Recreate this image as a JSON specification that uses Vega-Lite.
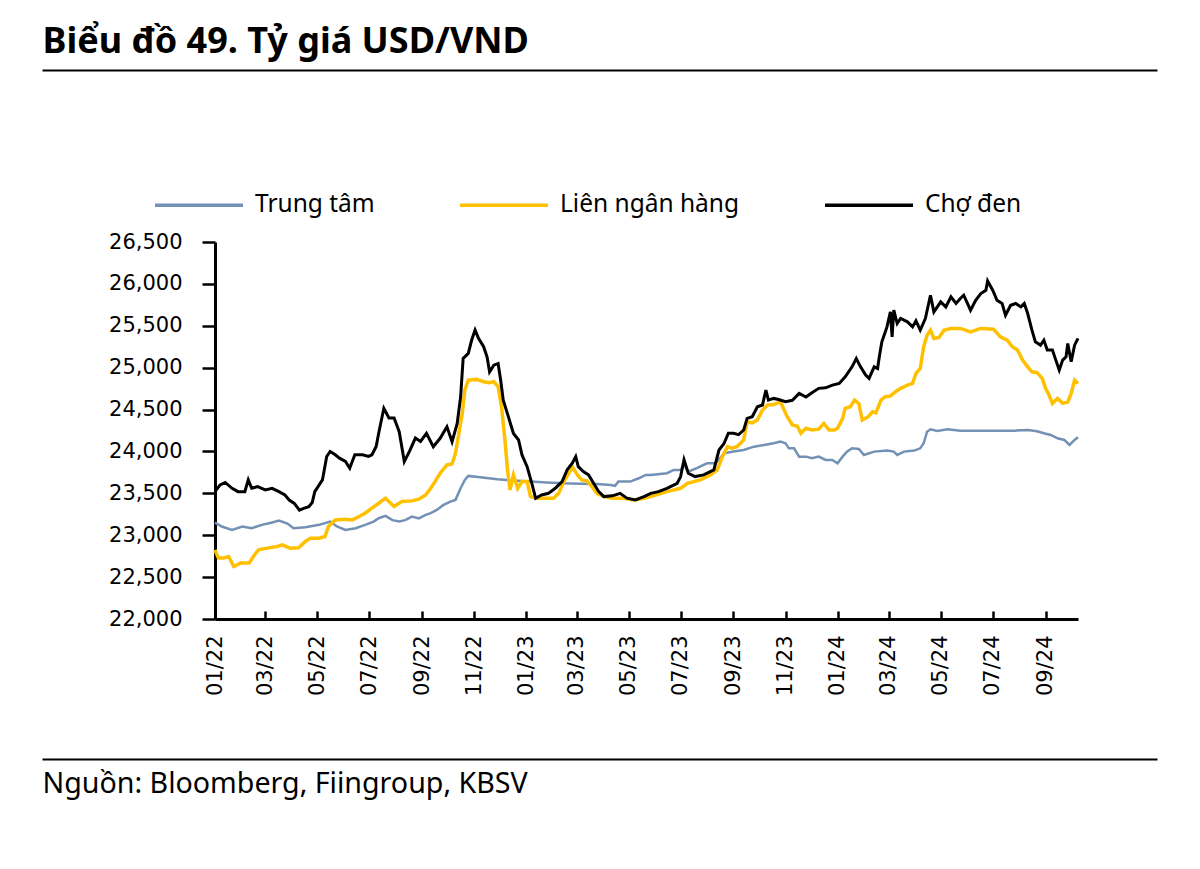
{
  "$schema": "https://vega.github.io/schema/vega-lite/v6.json",
  "autosize": {"type": "none"},
  "width": 863,
  "height": 377,
  "padding": {"left": 215, "top": 242, "right": 122, "bottom": 250},
  "background": "white",
  "config": {"view": {"stroke": null}, "font": "Noto Sans"},
  "datasets": {
    "tt": [
      {"d":"2022-01-01","v":23151,"s":"Trung tâm"},{"d":"2022-01-09","v":23104,"s":"Trung tâm"},{"d":"2022-01-21","v":23064,"s":"Trung tâm"},{"d":"2022-02-02","v":23104,"s":"Trung tâm"},{"d":"2022-02-13","v":23084,"s":"Trung tâm"},{"d":"2022-02-25","v":23124,"s":"Trung tâm"},{"d":"2022-03-09","v":23151,"s":"Trung tâm"},{"d":"2022-03-17","v":23175,"s":"Trung tâm"},{"d":"2022-03-27","v":23140,"s":"Trung tâm"},{"d":"2022-04-03","v":23084,"s":"Trung tâm"},{"d":"2022-04-17","v":23094,"s":"Trung tâm"},{"d":"2022-05-03","v":23124,"s":"Trung tâm"},{"d":"2022-05-16","v":23163,"s":"Trung tâm"},{"d":"2022-05-24","v":23104,"s":"Trung tâm"},{"d":"2022-06-03","v":23064,"s":"Trung tâm"},{"d":"2022-06-15","v":23084,"s":"Trung tâm"},{"d":"2022-06-26","v":23124,"s":"Trung tâm"},{"d":"2022-07-06","v":23163,"s":"Trung tâm"},{"d":"2022-07-12","v":23203,"s":"Trung tâm"},{"d":"2022-07-20","v":23231,"s":"Trung tâm"},{"d":"2022-07-28","v":23180,"s":"Trung tâm"},{"d":"2022-08-05","v":23163,"s":"Trung tâm"},{"d":"2022-08-12","v":23180,"s":"Trung tâm"},{"d":"2022-08-20","v":23223,"s":"Trung tâm"},{"d":"2022-08-28","v":23200,"s":"Trung tâm"},{"d":"2022-09-05","v":23243,"s":"Trung tâm"},{"d":"2022-09-11","v":23263,"s":"Trung tâm"},{"d":"2022-09-18","v":23302,"s":"Trung tâm"},{"d":"2022-09-26","v":23362,"s":"Trung tâm"},{"d":"2022-10-04","v":23402,"s":"Trung tâm"},{"d":"2022-10-10","v":23422,"s":"Trung tâm"},{"d":"2022-10-16","v":23560,"s":"Trung tâm"},{"d":"2022-10-21","v":23660,"s":"Trung tâm"},{"d":"2022-10-25","v":23708,"s":"Trung tâm"},{"d":"2022-11-08","v":23692,"s":"Trung tâm"},{"d":"2022-11-28","v":23668,"s":"Trung tâm"},{"d":"2022-12-17","v":23652,"s":"Trung tâm"},{"d":"2023-01-06","v":23640,"s":"Trung tâm"},{"d":"2023-01-25","v":23630,"s":"Trung tâm"},{"d":"2023-02-14","v":23620,"s":"Trung tâm"},{"d":"2023-03-05","v":23615,"s":"Trung tâm"},{"d":"2023-03-25","v":23610,"s":"Trung tâm"},{"d":"2023-04-10","v":23600,"s":"Trung tâm"},{"d":"2023-04-15","v":23590,"s":"Trung tâm"},{"d":"2023-04-19","v":23640,"s":"Trung tâm"},{"d":"2023-05-03","v":23640,"s":"Trung tâm"},{"d":"2023-05-13","v":23680,"s":"Trung tâm"},{"d":"2023-05-21","v":23720,"s":"Trung tâm"},{"d":"2023-05-27","v":23720,"s":"Trung tâm"},{"d":"2023-06-15","v":23740,"s":"Trung tâm"},{"d":"2023-06-23","v":23780,"s":"Trung tâm"},{"d":"2023-07-01","v":23780,"s":"Trung tâm"},{"d":"2023-07-05","v":23839,"s":"Trung tâm"},{"d":"2023-07-10","v":23759,"s":"Trung tâm"},{"d":"2023-07-20","v":23800,"s":"Trung tâm"},{"d":"2023-08-01","v":23859,"s":"Trung tâm"},{"d":"2023-08-11","v":23859,"s":"Trung tâm"},{"d":"2023-08-21","v":23978,"s":"Trung tâm"},{"d":"2023-09-01","v":24000,"s":"Trung tâm"},{"d":"2023-09-13","v":24017,"s":"Trung tâm"},{"d":"2023-09-25","v":24057,"s":"Trung tâm"},{"d":"2023-10-07","v":24077,"s":"Trung tâm"},{"d":"2023-10-18","v":24097,"s":"Trung tâm"},{"d":"2023-10-26","v":24117,"s":"Trung tâm"},{"d":"2023-11-01","v":24097,"s":"Trung tâm"},{"d":"2023-11-05","v":24037,"s":"Trung tâm"},{"d":"2023-11-11","v":24037,"s":"Trung tâm"},{"d":"2023-11-17","v":23938,"s":"Trung tâm"},{"d":"2023-11-25","v":23938,"s":"Trung tâm"},{"d":"2023-12-02","v":23918,"s":"Trung tâm"},{"d":"2023-12-10","v":23938,"s":"Trung tâm"},{"d":"2023-12-18","v":23898,"s":"Trung tâm"},{"d":"2023-12-26","v":23898,"s":"Trung tâm"},{"d":"2024-01-01","v":23859,"s":"Trung tâm"},{"d":"2024-01-07","v":23938,"s":"Trung tâm"},{"d":"2024-01-12","v":23998,"s":"Trung tâm"},{"d":"2024-01-18","v":24037,"s":"Trung tâm"},{"d":"2024-01-26","v":24030,"s":"Trung tâm"},{"d":"2024-02-01","v":23958,"s":"Trung tâm"},{"d":"2024-02-13","v":23998,"s":"Trung tâm"},{"d":"2024-02-28","v":24010,"s":"Trung tâm"},{"d":"2024-03-07","v":23998,"s":"Trung tâm"},{"d":"2024-03-11","v":23958,"s":"Trung tâm"},{"d":"2024-03-19","v":23998,"s":"Trung tâm"},{"d":"2024-03-31","v":24010,"s":"Trung tâm"},{"d":"2024-04-07","v":24037,"s":"Trung tâm"},{"d":"2024-04-11","v":24097,"s":"Trung tâm"},{"d":"2024-04-15","v":24235,"s":"Trung tâm"},{"d":"2024-04-19","v":24264,"s":"Trung tâm"},{"d":"2024-04-27","v":24245,"s":"Trung tâm"},{"d":"2024-05-09","v":24264,"s":"Trung tâm"},{"d":"2024-05-24","v":24248,"s":"Trung tâm"},{"d":"2024-06-09","v":24248,"s":"Trung tâm"},{"d":"2024-06-25","v":24248,"s":"Trung tâm"},{"d":"2024-07-10","v":24248,"s":"Trung tâm"},{"d":"2024-07-26","v":24248,"s":"Trung tâm"},{"d":"2024-08-11","v":24255,"s":"Trung tâm"},{"d":"2024-08-22","v":24240,"s":"Trung tâm"},{"d":"2024-08-30","v":24217,"s":"Trung tâm"},{"d":"2024-09-07","v":24197,"s":"Trung tâm"},{"d":"2024-09-15","v":24157,"s":"Trung tâm"},{"d":"2024-09-23","v":24137,"s":"Trung tâm"},{"d":"2024-09-29","v":24077,"s":"Trung tâm"},{"d":"2024-10-05","v":24137,"s":"Trung tâm"},{"d":"2024-10-09","v":24170,"s":"Trung tâm"}
    ],
    "lnh": [
      {"d":"2022-01-01","v":22826,"s":"Liên ngân hàng"},{"d":"2022-01-05","v":22727,"s":"Liên ngân hàng"},{"d":"2022-01-11","v":22727,"s":"Liên ngân hàng"},{"d":"2022-01-17","v":22746,"s":"Liên ngân hàng"},{"d":"2022-01-23","v":22627,"s":"Liên ngân hàng"},{"d":"2022-01-31","v":22667,"s":"Liên ngân hàng"},{"d":"2022-02-10","v":22667,"s":"Liên ngân hàng"},{"d":"2022-02-15","v":22746,"s":"Liên ngân hàng"},{"d":"2022-02-21","v":22826,"s":"Liên ngân hàng"},{"d":"2022-03-03","v":22846,"s":"Liên ngân hàng"},{"d":"2022-03-15","v":22866,"s":"Liên ngân hàng"},{"d":"2022-03-21","v":22885,"s":"Liên ngân hàng"},{"d":"2022-03-30","v":22846,"s":"Liên ngân hàng"},{"d":"2022-04-09","v":22850,"s":"Liên ngân hàng"},{"d":"2022-04-17","v":22925,"s":"Liên ngân hàng"},{"d":"2022-04-23","v":22965,"s":"Liên ngân hàng"},{"d":"2022-05-03","v":22965,"s":"Liên ngân hàng"},{"d":"2022-05-10","v":22985,"s":"Liên ngân hàng"},{"d":"2022-05-14","v":23104,"s":"Liên ngân hàng"},{"d":"2022-05-22","v":23183,"s":"Liên ngân hàng"},{"d":"2022-06-03","v":23190,"s":"Liên ngân hàng"},{"d":"2022-06-11","v":23183,"s":"Liên ngân hàng"},{"d":"2022-06-19","v":23223,"s":"Liên ngân hàng"},{"d":"2022-06-26","v":23263,"s":"Liên ngân hàng"},{"d":"2022-07-04","v":23323,"s":"Liên ngân hàng"},{"d":"2022-07-12","v":23382,"s":"Liên ngân hàng"},{"d":"2022-07-20","v":23442,"s":"Liên ngân hàng"},{"d":"2022-07-30","v":23342,"s":"Liên ngân hàng"},{"d":"2022-08-08","v":23402,"s":"Liên ngân hàng"},{"d":"2022-08-20","v":23410,"s":"Liên ngân hàng"},{"d":"2022-08-28","v":23430,"s":"Liên ngân hàng"},{"d":"2022-09-05","v":23481,"s":"Liên ngân hàng"},{"d":"2022-09-11","v":23560,"s":"Liên ngân hàng"},{"d":"2022-09-16","v":23640,"s":"Liên ngân hàng"},{"d":"2022-09-22","v":23740,"s":"Liên ngân hàng"},{"d":"2022-09-30","v":23839,"s":"Liên ngân hàng"},{"d":"2022-10-06","v":23850,"s":"Liên ngân hàng"},{"d":"2022-10-10","v":23978,"s":"Liên ngân hàng"},{"d":"2022-10-14","v":24217,"s":"Liên ngân hàng"},{"d":"2022-10-18","v":24455,"s":"Liên ngân hàng"},{"d":"2022-10-21","v":24733,"s":"Liên ngân hàng"},{"d":"2022-10-25","v":24852,"s":"Liên ngân hàng"},{"d":"2022-11-04","v":24860,"s":"Liên ngân hàng"},{"d":"2022-11-12","v":24832,"s":"Liên ngân hàng"},{"d":"2022-11-18","v":24820,"s":"Liên ngân hàng"},{"d":"2022-11-24","v":24832,"s":"Liên ngân hàng"},{"d":"2022-11-29","v":24772,"s":"Liên ngân hàng"},{"d":"2022-12-03","v":24534,"s":"Liên ngân hàng"},{"d":"2022-12-07","v":24137,"s":"Liên ngân hàng"},{"d":"2022-12-10","v":23780,"s":"Liên ngân hàng"},{"d":"2022-12-13","v":23540,"s":"Liên ngân hàng"},{"d":"2022-12-17","v":23720,"s":"Liên ngân hàng"},{"d":"2022-12-22","v":23560,"s":"Liên ngân hàng"},{"d":"2022-12-27","v":23640,"s":"Liên ngân hàng"},{"d":"2023-01-02","v":23640,"s":"Liên ngân hàng"},{"d":"2023-01-06","v":23461,"s":"Liên ngân hàng"},{"d":"2023-01-14","v":23442,"s":"Liên ngân hàng"},{"d":"2023-01-25","v":23442,"s":"Liên ngân hàng"},{"d":"2023-02-02","v":23442,"s":"Liên ngân hàng"},{"d":"2023-02-08","v":23500,"s":"Liên ngân hàng"},{"d":"2023-02-14","v":23640,"s":"Liên ngân hàng"},{"d":"2023-02-20","v":23740,"s":"Liên ngân hàng"},{"d":"2023-02-24","v":23818,"s":"Liên ngân hàng"},{"d":"2023-03-02","v":23720,"s":"Liên ngân hàng"},{"d":"2023-03-07","v":23660,"s":"Liên ngân hàng"},{"d":"2023-03-13","v":23650,"s":"Liên ngân hàng"},{"d":"2023-03-19","v":23580,"s":"Liên ngân hàng"},{"d":"2023-03-25","v":23500,"s":"Liên ngân hàng"},{"d":"2023-04-02","v":23461,"s":"Liên ngân hàng"},{"d":"2023-04-12","v":23442,"s":"Liên ngân hàng"},{"d":"2023-04-25","v":23442,"s":"Liên ngân hàng"},{"d":"2023-05-07","v":23422,"s":"Liên ngân hàng"},{"d":"2023-05-19","v":23442,"s":"Liên ngân hàng"},{"d":"2023-05-27","v":23461,"s":"Liên ngân hàng"},{"d":"2023-06-15","v":23520,"s":"Liên ngân hàng"},{"d":"2023-07-01","v":23560,"s":"Liên ngân hàng"},{"d":"2023-07-09","v":23620,"s":"Liên ngân hàng"},{"d":"2023-07-24","v":23660,"s":"Liên ngân hàng"},{"d":"2023-08-05","v":23720,"s":"Liên ngân hàng"},{"d":"2023-08-13","v":23780,"s":"Liên ngân hàng"},{"d":"2023-08-19","v":23938,"s":"Liên ngân hàng"},{"d":"2023-08-25","v":24057,"s":"Liên ngân hàng"},{"d":"2023-08-30","v":24040,"s":"Liên ngân hàng"},{"d":"2023-09-05","v":24057,"s":"Liên ngân hàng"},{"d":"2023-09-13","v":24137,"s":"Liên ngân hàng"},{"d":"2023-09-17","v":24355,"s":"Liên ngân hàng"},{"d":"2023-09-23","v":24340,"s":"Liên ngân hàng"},{"d":"2023-09-29","v":24375,"s":"Liên ngân hàng"},{"d":"2023-10-05","v":24494,"s":"Liên ngân hàng"},{"d":"2023-10-11","v":24554,"s":"Liên ngân hàng"},{"d":"2023-10-18","v":24560,"s":"Liên ngân hàng"},{"d":"2023-10-26","v":24593,"s":"Liên ngân hàng"},{"d":"2023-11-03","v":24415,"s":"Liên ngân hàng"},{"d":"2023-11-09","v":24316,"s":"Liên ngân hàng"},{"d":"2023-11-15","v":24300,"s":"Liên ngân hàng"},{"d":"2023-11-19","v":24217,"s":"Liên ngân hàng"},{"d":"2023-11-25","v":24276,"s":"Liên ngân hàng"},{"d":"2023-12-02","v":24256,"s":"Liên ngân hàng"},{"d":"2023-12-10","v":24266,"s":"Liên ngân hàng"},{"d":"2023-12-16","v":24335,"s":"Liên ngân hàng"},{"d":"2023-12-22","v":24256,"s":"Liên ngân hàng"},{"d":"2023-12-28","v":24256,"s":"Liên ngân hàng"},{"d":"2024-01-01","v":24276,"s":"Liên ngân hàng"},{"d":"2024-01-07","v":24395,"s":"Liên ngân hàng"},{"d":"2024-01-10","v":24514,"s":"Liên ngân hàng"},{"d":"2024-01-16","v":24534,"s":"Liên ngân hàng"},{"d":"2024-01-21","v":24613,"s":"Liên ngân hàng"},{"d":"2024-01-26","v":24570,"s":"Liên ngân hàng"},{"d":"2024-01-30","v":24375,"s":"Liên ngân hàng"},{"d":"2024-02-06","v":24415,"s":"Liên ngân hàng"},{"d":"2024-02-11","v":24474,"s":"Liên ngân hàng"},{"d":"2024-02-15","v":24460,"s":"Liên ngân hàng"},{"d":"2024-02-21","v":24613,"s":"Liên ngân hàng"},{"d":"2024-02-26","v":24653,"s":"Liên ngân hàng"},{"d":"2024-03-03","v":24660,"s":"Liên ngân hàng"},{"d":"2024-03-09","v":24713,"s":"Liên ngân hàng"},{"d":"2024-03-15","v":24753,"s":"Liên ngân hàng"},{"d":"2024-03-23","v":24792,"s":"Liên ngân hàng"},{"d":"2024-03-29","v":24812,"s":"Liên ngân hàng"},{"d":"2024-04-02","v":24931,"s":"Liên ngân hàng"},{"d":"2024-04-07","v":24991,"s":"Liên ngân hàng"},{"d":"2024-04-11","v":25249,"s":"Liên ngân hàng"},{"d":"2024-04-15","v":25388,"s":"Liên ngân hàng"},{"d":"2024-04-19","v":25448,"s":"Liên ngân hàng"},{"d":"2024-04-23","v":25349,"s":"Liên ngân hàng"},{"d":"2024-04-29","v":25360,"s":"Liên ngân hàng"},{"d":"2024-05-05","v":25448,"s":"Liên ngân hàng"},{"d":"2024-05-13","v":25468,"s":"Liên ngân hàng"},{"d":"2024-05-24","v":25468,"s":"Liên ngân hàng"},{"d":"2024-06-05","v":25428,"s":"Liên ngân hàng"},{"d":"2024-06-17","v":25468,"s":"Liên ngân hàng"},{"d":"2024-07-02","v":25460,"s":"Liên ngân hàng"},{"d":"2024-07-10","v":25368,"s":"Liên ngân hàng"},{"d":"2024-07-18","v":25328,"s":"Liên ngân hàng"},{"d":"2024-07-24","v":25249,"s":"Liên ngân hàng"},{"d":"2024-07-30","v":25210,"s":"Liên ngân hàng"},{"d":"2024-08-05","v":25090,"s":"Liên ngân hàng"},{"d":"2024-08-11","v":25010,"s":"Liên ngân hàng"},{"d":"2024-08-16","v":24951,"s":"Liên ngân hàng"},{"d":"2024-08-22","v":24940,"s":"Liên ngân hàng"},{"d":"2024-08-28","v":24872,"s":"Liên ngân hàng"},{"d":"2024-09-01","v":24753,"s":"Liên ngân hàng"},{"d":"2024-09-05","v":24673,"s":"Liên ngân hàng"},{"d":"2024-09-09","v":24574,"s":"Liên ngân hàng"},{"d":"2024-09-15","v":24633,"s":"Liên ngân hàng"},{"d":"2024-09-21","v":24574,"s":"Liên ngân hàng"},{"d":"2024-09-27","v":24590,"s":"Liên ngân hàng"},{"d":"2024-10-01","v":24693,"s":"Liên ngân hàng"},{"d":"2024-10-05","v":24852,"s":"Liên ngân hàng"},{"d":"2024-10-09","v":24812,"s":"Liên ngân hàng"}
    ],
    "cd": [
      {"d":"2022-01-01","v":23520,"s":"Chợ đen"},{"d":"2022-01-07","v":23600,"s":"Chợ đen"},{"d":"2022-01-13","v":23630,"s":"Chợ đen"},{"d":"2022-01-21","v":23560,"s":"Chợ đen"},{"d":"2022-01-28","v":23520,"s":"Chợ đen"},{"d":"2022-02-05","v":23520,"s":"Chợ đen"},{"d":"2022-02-09","v":23660,"s":"Chợ đen"},{"d":"2022-02-13","v":23560,"s":"Chợ đen"},{"d":"2022-02-20","v":23580,"s":"Chợ đen"},{"d":"2022-03-01","v":23540,"s":"Chợ đen"},{"d":"2022-03-09","v":23560,"s":"Chợ đen"},{"d":"2022-03-17","v":23520,"s":"Chợ đen"},{"d":"2022-03-24","v":23480,"s":"Chợ đen"},{"d":"2022-03-29","v":23420,"s":"Chợ đen"},{"d":"2022-04-04","v":23380,"s":"Chợ đen"},{"d":"2022-04-10","v":23300,"s":"Chợ đen"},{"d":"2022-04-15","v":23320,"s":"Chợ đen"},{"d":"2022-04-21","v":23340,"s":"Chợ đen"},{"d":"2022-04-25","v":23390,"s":"Chợ đen"},{"d":"2022-04-28","v":23520,"s":"Chợ đen"},{"d":"2022-05-07","v":23660,"s":"Chợ đen"},{"d":"2022-05-12","v":23940,"s":"Chợ đen"},{"d":"2022-05-16","v":24000,"s":"Chợ đen"},{"d":"2022-05-22","v":23960,"s":"Chợ đen"},{"d":"2022-05-27","v":23920,"s":"Chợ đen"},{"d":"2022-06-03","v":23880,"s":"Chợ đen"},{"d":"2022-06-08","v":23800,"s":"Chợ đen"},{"d":"2022-06-14","v":23960,"s":"Chợ đen"},{"d":"2022-06-23","v":23960,"s":"Chợ đen"},{"d":"2022-06-30","v":23940,"s":"Chợ đen"},{"d":"2022-07-04","v":23960,"s":"Chợ đen"},{"d":"2022-07-09","v":24060,"s":"Chợ đen"},{"d":"2022-07-12","v":24220,"s":"Chợ đen"},{"d":"2022-07-18","v":24515,"s":"Chợ đen"},{"d":"2022-07-24","v":24400,"s":"Chợ đen"},{"d":"2022-07-30","v":24400,"s":"Chợ đen"},{"d":"2022-08-05","v":24235,"s":"Chợ đen"},{"d":"2022-08-11","v":23880,"s":"Chợ đen"},{"d":"2022-08-17","v":24000,"s":"Chợ đen"},{"d":"2022-08-24","v":24160,"s":"Chợ đen"},{"d":"2022-08-30","v":24120,"s":"Chợ đen"},{"d":"2022-09-06","v":24217,"s":"Chợ đen"},{"d":"2022-09-14","v":24057,"s":"Chợ đen"},{"d":"2022-09-22","v":24157,"s":"Chợ đen"},{"d":"2022-09-30","v":24295,"s":"Chợ đen"},{"d":"2022-10-06","v":24117,"s":"Chợ đen"},{"d":"2022-10-12","v":24335,"s":"Chợ đen"},{"d":"2022-10-16","v":24650,"s":"Chợ đen"},{"d":"2022-10-19","v":25110,"s":"Chợ đen"},{"d":"2022-10-25","v":25170,"s":"Chợ đen"},{"d":"2022-10-29","v":25330,"s":"Chợ đen"},{"d":"2022-11-02","v":25450,"s":"Chợ đen"},{"d":"2022-11-06","v":25350,"s":"Chợ đen"},{"d":"2022-11-12","v":25250,"s":"Chợ đen"},{"d":"2022-11-16","v":25130,"s":"Chợ đen"},{"d":"2022-11-19","v":24950,"s":"Chợ đen"},{"d":"2022-11-24","v":25030,"s":"Chợ đen"},{"d":"2022-11-29","v":25050,"s":"Chợ đen"},{"d":"2022-12-02","v":24850,"s":"Chợ đen"},{"d":"2022-12-05","v":24613,"s":"Chợ đen"},{"d":"2022-12-11","v":24415,"s":"Chợ đen"},{"d":"2022-12-17","v":24215,"s":"Chợ đen"},{"d":"2022-12-23","v":24137,"s":"Chợ đen"},{"d":"2022-12-27","v":23958,"s":"Chợ đen"},{"d":"2023-01-02","v":23818,"s":"Chợ đen"},{"d":"2023-01-08","v":23600,"s":"Chợ đen"},{"d":"2023-01-12","v":23442,"s":"Chợ đen"},{"d":"2023-01-19","v":23481,"s":"Chợ đen"},{"d":"2023-01-27","v":23500,"s":"Chợ đen"},{"d":"2023-02-04","v":23560,"s":"Chợ đen"},{"d":"2023-02-12","v":23640,"s":"Chợ đen"},{"d":"2023-02-18","v":23780,"s":"Chợ đen"},{"d":"2023-02-24","v":23859,"s":"Chợ đen"},{"d":"2023-02-28","v":23938,"s":"Chợ đen"},{"d":"2023-03-03","v":23818,"s":"Chợ đen"},{"d":"2023-03-09","v":23759,"s":"Chợ đen"},{"d":"2023-03-15","v":23720,"s":"Chợ đen"},{"d":"2023-03-21","v":23620,"s":"Chợ đen"},{"d":"2023-03-27","v":23520,"s":"Chợ đen"},{"d":"2023-04-02","v":23461,"s":"Chợ đen"},{"d":"2023-04-12","v":23470,"s":"Chợ đen"},{"d":"2023-04-21","v":23500,"s":"Chợ đen"},{"d":"2023-04-29","v":23442,"s":"Chợ đen"},{"d":"2023-05-09","v":23422,"s":"Chợ đen"},{"d":"2023-05-19","v":23461,"s":"Chợ đen"},{"d":"2023-05-27","v":23500,"s":"Chợ đen"},{"d":"2023-06-05","v":23520,"s":"Chợ đen"},{"d":"2023-06-15","v":23560,"s":"Chợ đen"},{"d":"2023-06-27","v":23620,"s":"Chợ đen"},{"d":"2023-07-01","v":23700,"s":"Chợ đen"},{"d":"2023-07-05","v":23900,"s":"Chợ đen"},{"d":"2023-07-10","v":23740,"s":"Chợ đen"},{"d":"2023-07-18","v":23700,"s":"Chợ đen"},{"d":"2023-07-28","v":23720,"s":"Chợ đen"},{"d":"2023-08-09","v":23780,"s":"Chợ đen"},{"d":"2023-08-15","v":24017,"s":"Chợ đen"},{"d":"2023-08-21","v":24097,"s":"Chợ đen"},{"d":"2023-08-26","v":24217,"s":"Chợ đen"},{"d":"2023-09-01","v":24217,"s":"Chợ đen"},{"d":"2023-09-07","v":24200,"s":"Chợ đen"},{"d":"2023-09-13","v":24256,"s":"Chợ đen"},{"d":"2023-09-17","v":24395,"s":"Chợ đen"},{"d":"2023-09-23","v":24415,"s":"Chợ đen"},{"d":"2023-09-29","v":24534,"s":"Chợ đen"},{"d":"2023-10-05","v":24554,"s":"Chợ đen"},{"d":"2023-10-09","v":24733,"s":"Chợ đen"},{"d":"2023-10-12","v":24613,"s":"Chợ đen"},{"d":"2023-10-18","v":24633,"s":"Chợ đen"},{"d":"2023-10-24","v":24620,"s":"Chợ đen"},{"d":"2023-11-01","v":24593,"s":"Chợ đen"},{"d":"2023-11-09","v":24610,"s":"Chợ đen"},{"d":"2023-11-17","v":24693,"s":"Chợ đen"},{"d":"2023-11-25","v":24650,"s":"Chợ đen"},{"d":"2023-12-02","v":24700,"s":"Chợ đen"},{"d":"2023-12-10","v":24753,"s":"Chợ đen"},{"d":"2023-12-18","v":24760,"s":"Chợ đen"},{"d":"2023-12-26","v":24792,"s":"Chợ đen"},{"d":"2024-01-03","v":24812,"s":"Chợ đen"},{"d":"2024-01-10","v":24891,"s":"Chợ đen"},{"d":"2024-01-18","v":25010,"s":"Chợ đen"},{"d":"2024-01-23","v":25110,"s":"Chợ đen"},{"d":"2024-01-28","v":25010,"s":"Chợ đen"},{"d":"2024-02-03","v":24911,"s":"Chợ đen"},{"d":"2024-02-07","v":24872,"s":"Chợ đen"},{"d":"2024-02-13","v":25010,"s":"Chợ đen"},{"d":"2024-02-17","v":24990,"s":"Chợ đen"},{"d":"2024-02-19","v":25130,"s":"Chợ đen"},{"d":"2024-02-22","v":25308,"s":"Chợ đen"},{"d":"2024-02-28","v":25487,"s":"Chợ đen"},{"d":"2024-03-03","v":25666,"s":"Chợ đen"},{"d":"2024-03-05","v":25368,"s":"Chợ đen"},{"d":"2024-03-07","v":25686,"s":"Chợ đen"},{"d":"2024-03-11","v":25527,"s":"Chợ đen"},{"d":"2024-03-15","v":25587,"s":"Chợ đen"},{"d":"2024-03-23","v":25547,"s":"Chợ đen"},{"d":"2024-03-29","v":25487,"s":"Chợ đen"},{"d":"2024-04-02","v":25560,"s":"Chợ đen"},{"d":"2024-04-07","v":25448,"s":"Chợ đen"},{"d":"2024-04-13","v":25587,"s":"Chợ đen"},{"d":"2024-04-19","v":25865,"s":"Chợ đen"},{"d":"2024-04-23","v":25666,"s":"Chợ đen"},{"d":"2024-05-01","v":25785,"s":"Chợ đen"},{"d":"2024-05-07","v":25725,"s":"Chợ đen"},{"d":"2024-05-13","v":25845,"s":"Chợ đen"},{"d":"2024-05-19","v":25766,"s":"Chợ đen"},{"d":"2024-05-24","v":25825,"s":"Chợ đen"},{"d":"2024-05-28","v":25865,"s":"Chợ đen"},{"d":"2024-06-05","v":25686,"s":"Chợ đen"},{"d":"2024-06-11","v":25805,"s":"Chợ đen"},{"d":"2024-06-17","v":25885,"s":"Chợ đen"},{"d":"2024-06-23","v":25924,"s":"Chợ đen"},{"d":"2024-06-25","v":26035,"s":"Chợ đen"},{"d":"2024-07-01","v":25924,"s":"Chợ đen"},{"d":"2024-07-06","v":25805,"s":"Chợ đen"},{"d":"2024-07-12","v":25766,"s":"Chợ đen"},{"d":"2024-07-16","v":25626,"s":"Chợ đen"},{"d":"2024-07-22","v":25745,"s":"Chợ đen"},{"d":"2024-07-28","v":25766,"s":"Chợ đen"},{"d":"2024-08-03","v":25725,"s":"Chợ đen"},{"d":"2024-08-07","v":25766,"s":"Chợ đen"},{"d":"2024-08-11","v":25646,"s":"Chợ đen"},{"d":"2024-08-16","v":25448,"s":"Chợ đen"},{"d":"2024-08-20","v":25308,"s":"Chợ đen"},{"d":"2024-08-26","v":25269,"s":"Chợ đen"},{"d":"2024-08-30","v":25328,"s":"Chợ đen"},{"d":"2024-09-03","v":25210,"s":"Chợ đen"},{"d":"2024-09-09","v":25210,"s":"Chợ đen"},{"d":"2024-09-13","v":25090,"s":"Chợ đen"},{"d":"2024-09-17","v":24971,"s":"Chợ đen"},{"d":"2024-09-21","v":25090,"s":"Chợ đen"},{"d":"2024-09-25","v":25130,"s":"Chợ đen"},{"d":"2024-09-27","v":25289,"s":"Chợ đen"},{"d":"2024-10-01","v":25070,"s":"Chợ đen"},{"d":"2024-10-05","v":25269,"s":"Chợ đen"},{"d":"2024-10-09","v":25349,"s":"Chợ đen"}
    ]
  },
  "layer": [
    {
      "encoding": {
        "x": {
          "field": "d", "type": "temporal",
          "scale": {"type": "utc", "domain": [{"year": 2022, "month": 1, "date": 1, "utc": true}, {"year": 2024, "month": 10, "date": 9, "utc": true}]},
          "axis": {
            "title": null, "format": "%m/%y", "grid": false, "orient": "bottom",
            "values": [
              {"year": 2022, "month": 1, "date": 1, "utc": true},
              {"year": 2022, "month": 3, "date": 1, "utc": true},
              {"year": 2022, "month": 5, "date": 1, "utc": true},
              {"year": 2022, "month": 7, "date": 1, "utc": true},
              {"year": 2022, "month": 9, "date": 1, "utc": true},
              {"year": 2022, "month": 11, "date": 1, "utc": true},
              {"year": 2023, "month": 1, "date": 1, "utc": true},
              {"year": 2023, "month": 3, "date": 1, "utc": true},
              {"year": 2023, "month": 5, "date": 1, "utc": true},
              {"year": 2023, "month": 7, "date": 1, "utc": true},
              {"year": 2023, "month": 9, "date": 1, "utc": true},
              {"year": 2023, "month": 11, "date": 1, "utc": true},
              {"year": 2024, "month": 1, "date": 1, "utc": true},
              {"year": 2024, "month": 3, "date": 1, "utc": true},
              {"year": 2024, "month": 5, "date": 1, "utc": true},
              {"year": 2024, "month": 7, "date": 1, "utc": true},
              {"year": 2024, "month": 9, "date": 1, "utc": true}
            ],
            "labelAngle": -90, "labelAlign": "right", "labelBaseline": "middle",
            "labelFont": "DejaVu Sans", "labelFontSize": 21, "labelColor": "#000000",
            "labelPadding": 24, "labelOverlap": false, "labelFlush": false,
            "tickSize": -8, "tickWidth": 2.5, "tickColor": "#000000",
            "domainColor": "#000000", "domainWidth": 3
          }
        },
        "y": {
          "field": "v", "type": "quantitative",
          "scale": {"domain": [22000, 26500], "nice": false, "zero": false},
          "axis": {
            "title": null,
            "values": [22000, 22500, 23000, 23500, 24000, 24500, 25000, 25500, 26000, 26500],
            "format": ",.0f", "grid": false,
            "labelFont": "DejaVu Sans", "labelFontSize": 21, "labelColor": "#000000", "labelPadding": 20,
            "tickSize": 13, "tickWidth": 2.5, "tickColor": "#000000",
            "domainColor": "#000000", "domainWidth": 3
          }
        },
        "color": {
          "field": "s", "type": "nominal",
          "scale": {"domain": ["Trung tâm", "Liên ngân hàng", "Chợ đen"], "range": ["#7391b5", "#ffc000", "#000000"]},
          "legend": {
            "title": null, "orient": "none", "legendX": -62, "legendY": -83, "direction": "horizontal",
            "symbolType": "stroke", "symbolSize": 7744, "symbolStrokeWidth": 3.5,
            "labelFont": "Noto Sans", "labelFontSize": 24.5, "labelColor": "#000000", "labelOffset": 10,
            "labelLimit": 400, "columnPadding": 78
          }
        }
      },
      "layer": [
        {"data": {"name": "tt"}, "mark": {"type": "line", "strokeWidth": 2.5}},
        {"data": {"name": "lnh"}, "mark": {"type": "line", "strokeWidth": 3.5}},
        {"data": {"name": "cd"}, "mark": {"type": "line", "strokeWidth": 3}}
      ]
    },
    {
      "data": {"name": "tt"},
      "mark": {"type": "rule", "opacity": 0},
      "encoding": {
        "x": {
          "field": "d", "type": "temporal",
          "scale": {"type": "utc", "domain": [{"year": 2022, "month": 1, "date": 1, "utc": true}, {"year": 2024, "month": 10, "date": 9, "utc": true}], "range": [-173, 942]},
          "axis": {
            "orient": "top", "offset": 172, "ticks": false, "labels": false, "grid": false,
            "domainColor": "#000000", "domainWidth": 2,
            "title": "Biểu đồ 49. Tỷ giá USD/VND", "titleX": -173, "titleY": -18, "titleAngle": 0,
            "titleAlign": "left", "titleBaseline": "alphabetic", "titleFont": "Noto Sans", "titleFontSize": 36,
            "titleFontWeight": "bold", "titleColor": "#000000", "titleLimit": 2000
          }
        }
      }
    },
    {
      "data": {"name": "tt"},
      "mark": {"type": "rule", "opacity": 0},
      "encoding": {
        "x": {
          "field": "d", "type": "temporal",
          "scale": {"type": "utc", "domain": [{"year": 2022, "month": 1, "date": 1, "utc": true}, {"year": 2024, "month": 10, "date": 9, "utc": true}], "range": [-173, 942]},
          "axis": {
            "orient": "bottom", "offset": 140, "ticks": false, "labels": false, "grid": false,
            "domainColor": "#000000", "domainWidth": 2,
            "title": "Nguồn: Bloomberg, Fiingroup, KBSV", "titleX": -173, "titleY": 33, "titleAngle": 0,
            "titleAlign": "left", "titleBaseline": "alphabetic", "titleFont": "Noto Sans", "titleFontSize": 28.6,
            "titleFontWeight": "normal", "titleColor": "#000000", "titleLimit": 2000
          }
        }
      }
    }
  ],
  "resolve": {"scale": {"x": "independent"}, "axis": {"x": "independent"}}
}
